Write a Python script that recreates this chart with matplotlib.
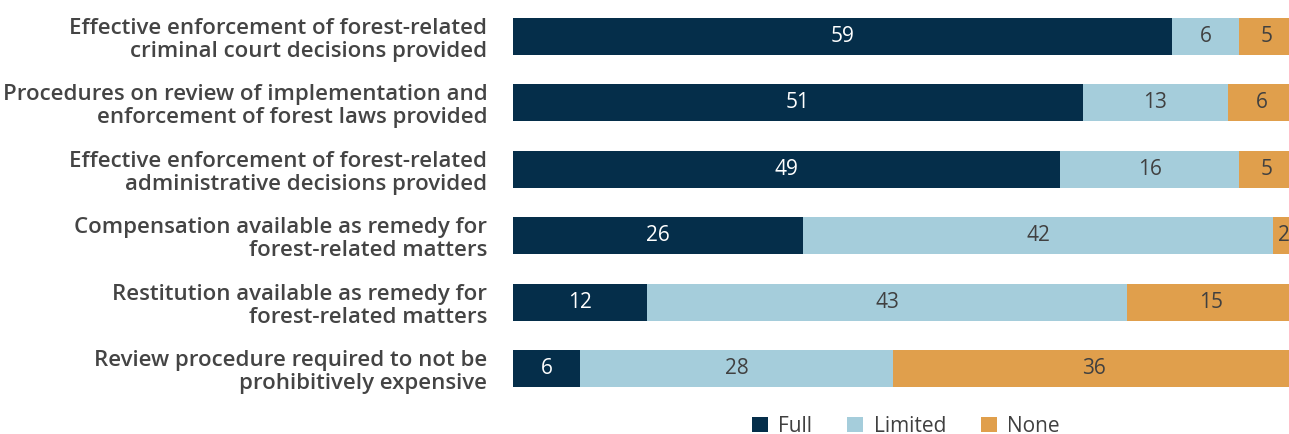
import matplotlib
matplotlib.use("Agg")
import matplotlib.pyplot as plt
import numpy as np

categories = [
    "Effective enforcement of forest-related\ncriminal court decisions provided",
    "Procedures on review of implementation and\nenforcement of forest laws provided",
    "Effective enforcement of forest-related\nadministrative decisions provided",
    "Compensation available as remedy for\nforest-related matters",
    "Restitution available as remedy for\nforest-related matters",
    "Review procedure required to not be\nprohibitively expensive",
]
full = [59, 51, 49, 26, 12, 6]
limited = [6, 13, 16, 42, 43, 28]
none = [5, 6, 5, 2, 15, 36]
series_names = ["Full", "Limited", "None"]
colors = ["#052E4A", "#A5CDDB", "#E09F4C"]
text_colors = ["white", "#404040", "#404040"]

plt.rcParams['font.family'] = ['Open Sans', 'DejaVu Sans']

fig = plt.figure(figsize=(12.89, 4.34), dpi=100)
ax = fig.add_axes([513/1289, 1 - 401.7/434, 1 - 513/1289, 398.4/434])

y = np.arange(len(categories))
left = np.zeros(len(categories))
handles = []
for vals, name, col, tc in zip([full, limited, none], series_names, colors, text_colors):
    vals = np.array(vals, dtype=float)
    bars = ax.barh(y, vals, left=left, height=0.557, color=col, label=name)
    handles.append(bars)
    for yi, l, v in zip(y, left, vals):
        ax.text(l + v / 2, yi, f"{int(v)}", ha="center", va="center",
                color=tc, fontsize=15, fontweight="medium", clip_on=False)
    left += vals

ax.set_xlim(0, 776 / 11.17)
ax.set_ylim(len(categories) - 0.5, -0.5)
ax.set_yticks(y)
ax.set_yticklabels(categories, fontsize=16, color="#444444", fontweight="semibold",
                   linespacing=1.12)
ax.tick_params(axis="y", length=0, pad=18.5)
ax.set_xticks([])
for s in ax.spines.values():
    s.set_visible(False)

fig.legend(handles=handles, labels=series_names, loc="center", bbox_to_anchor=(906/1289, 1 - 426/434),
           ncol=3, frameon=False, handlelength=0.75, handleheight=0.75,
           columnspacing=1.7, handletextpad=0.5, labelcolor="#404040",
           prop={'size': 15, 'weight': 'medium'})

fig.savefig("out.png", dpi=100)
